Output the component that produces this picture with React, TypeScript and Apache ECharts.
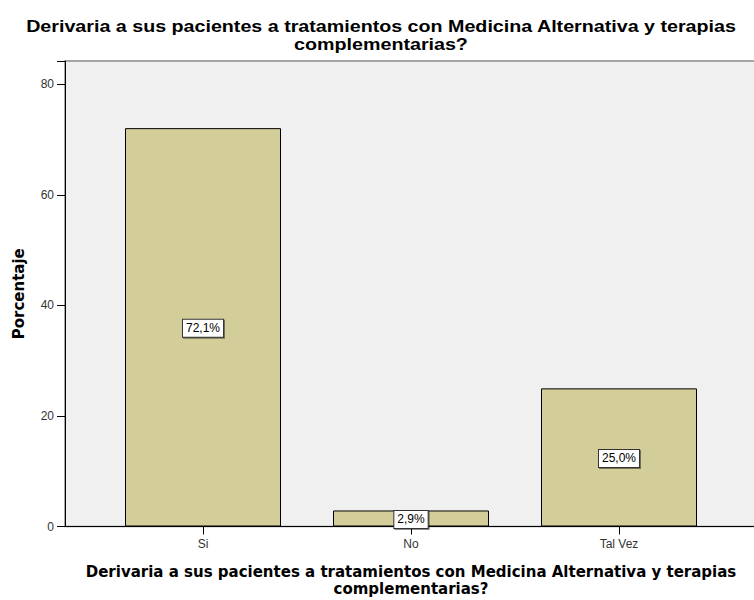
import React, { useEffect, useRef } from "react";
import * as echarts from "echarts";

const categories = ["Si", "No", "Tal Vez"];
const percentages = [72.1, 2.9, 25.0];
const yTicks = [0, 20, 40, 60, 80];
const titleText = "Derivaria a sus pacientes a tratamientos con Medicina Alternativa y terapias\ncomplementarias?";
const yName = "Porcentaje";

const FONT = "Liberation Sans, Arial, sans-serif";
const WIDE = "DejaVu Sans, Verdana, sans-serif";

export default function App() {
  const ref = useRef<HTMLDivElement>(null);
  useEffect(() => {
    if (!ref.current) return;
    const chart = echarts.init(ref.current, null, { renderer: "svg" });
    const yMax = 84.25;
    chart.setOption({
      animation: false,
      backgroundColor: "#ffffff",
      graphic: [
        {
          type: "text",
          x: 381,
          y: 18,
          scaleX: 1.23,
          style: {
            text: titleText,
            textAlign: "center",
            textVerticalAlign: "top",
            font: "bold 16px Liberation Sans, Arial, sans-serif",
            lineHeight: 18,
            fill: "#000",
          },
        },
      ],
      grid: [
        { left: 65, right: -2, top: 61, bottom: 73.5, show: true, backgroundColor: "#f0f0f0", borderColor: "#8a8a8a", borderWidth: 1.5, outerBoundsMode: "none" },
        { left: 99, width: 624, top: 61, bottom: 73.5, show: false, outerBoundsMode: "none" },
      ],
      xAxis: [
        {
          type: "category", gridIndex: 0, data: [""],
          axisLine: { show: true, lineStyle: { color: "#000", width: 1 } },
          axisTick: { show: false }, axisLabel: { show: false },
        },
        {
          type: "category", gridIndex: 1, data: categories, boundaryGap: true,
          axisLine: { show: false },
          axisTick: { show: true, alignWithLabel: true, length: 8, lineStyle: { color: "#000" } },
          axisLabel: { fontFamily: FONT, fontSize: 12, color: "#333", margin: 11 },
          name: titleText, nameLocation: "middle", nameGap: 37,
          nameTextStyle: { fontFamily: WIDE, fontSize: 15, fontWeight: "bold", color: "#000", lineHeight: 17 },
        },
      ],
      yAxis: [
        {
          type: "value", gridIndex: 0, min: 0, max: yMax, interval: 20,
          axisLine: { show: true, lineStyle: { color: "#000" } },
          axisTick: { show: true, length: 8, lineStyle: { color: "#000" } },
          axisLabel: { fontFamily: FONT, fontSize: 12, color: "#333", margin: 11, formatter: (v: number) => (yTicks.includes(v) ? String(v) : "") },
          splitLine: { show: false },
          name: yName, nameLocation: "middle", nameGap: 39,
          nameTextStyle: { fontFamily: WIDE, fontSize: 15, fontWeight: "bold", color: "#000" },
        },
        {
          type: "value", gridIndex: 1, min: 0, max: yMax, interval: 20, show: false,
          splitLine: { show: false },
        },
      ],
      series: [
        {
          type: "bar", xAxisIndex: 1, yAxisIndex: 1, data: percentages, barWidth: 156,
          itemStyle: { color: "#d3ce99", borderColor: "#000", borderWidth: 1 },
          label: {
            show: true, position: "inside", offset: [0, 1],
            formatter: (p: any) => p.value.toFixed(1).replace(".", ",") + "%",
            fontFamily: FONT, fontSize: 12, color: "#000",
            backgroundColor: "#fff", borderColor: "#333", borderWidth: 1, padding: [3, 3, 2, 3],
            shadowColor: "rgba(0,0,0,0.45)", shadowOffsetX: 1, shadowOffsetY: 1, shadowBlur: 1,
          },
        },
      ],
    });
    return () => chart.dispose();
  }, []);
  return <div ref={ref} style={{ position: "fixed", left: 0, top: 0, width: 754, height: 600 }} />;
}
